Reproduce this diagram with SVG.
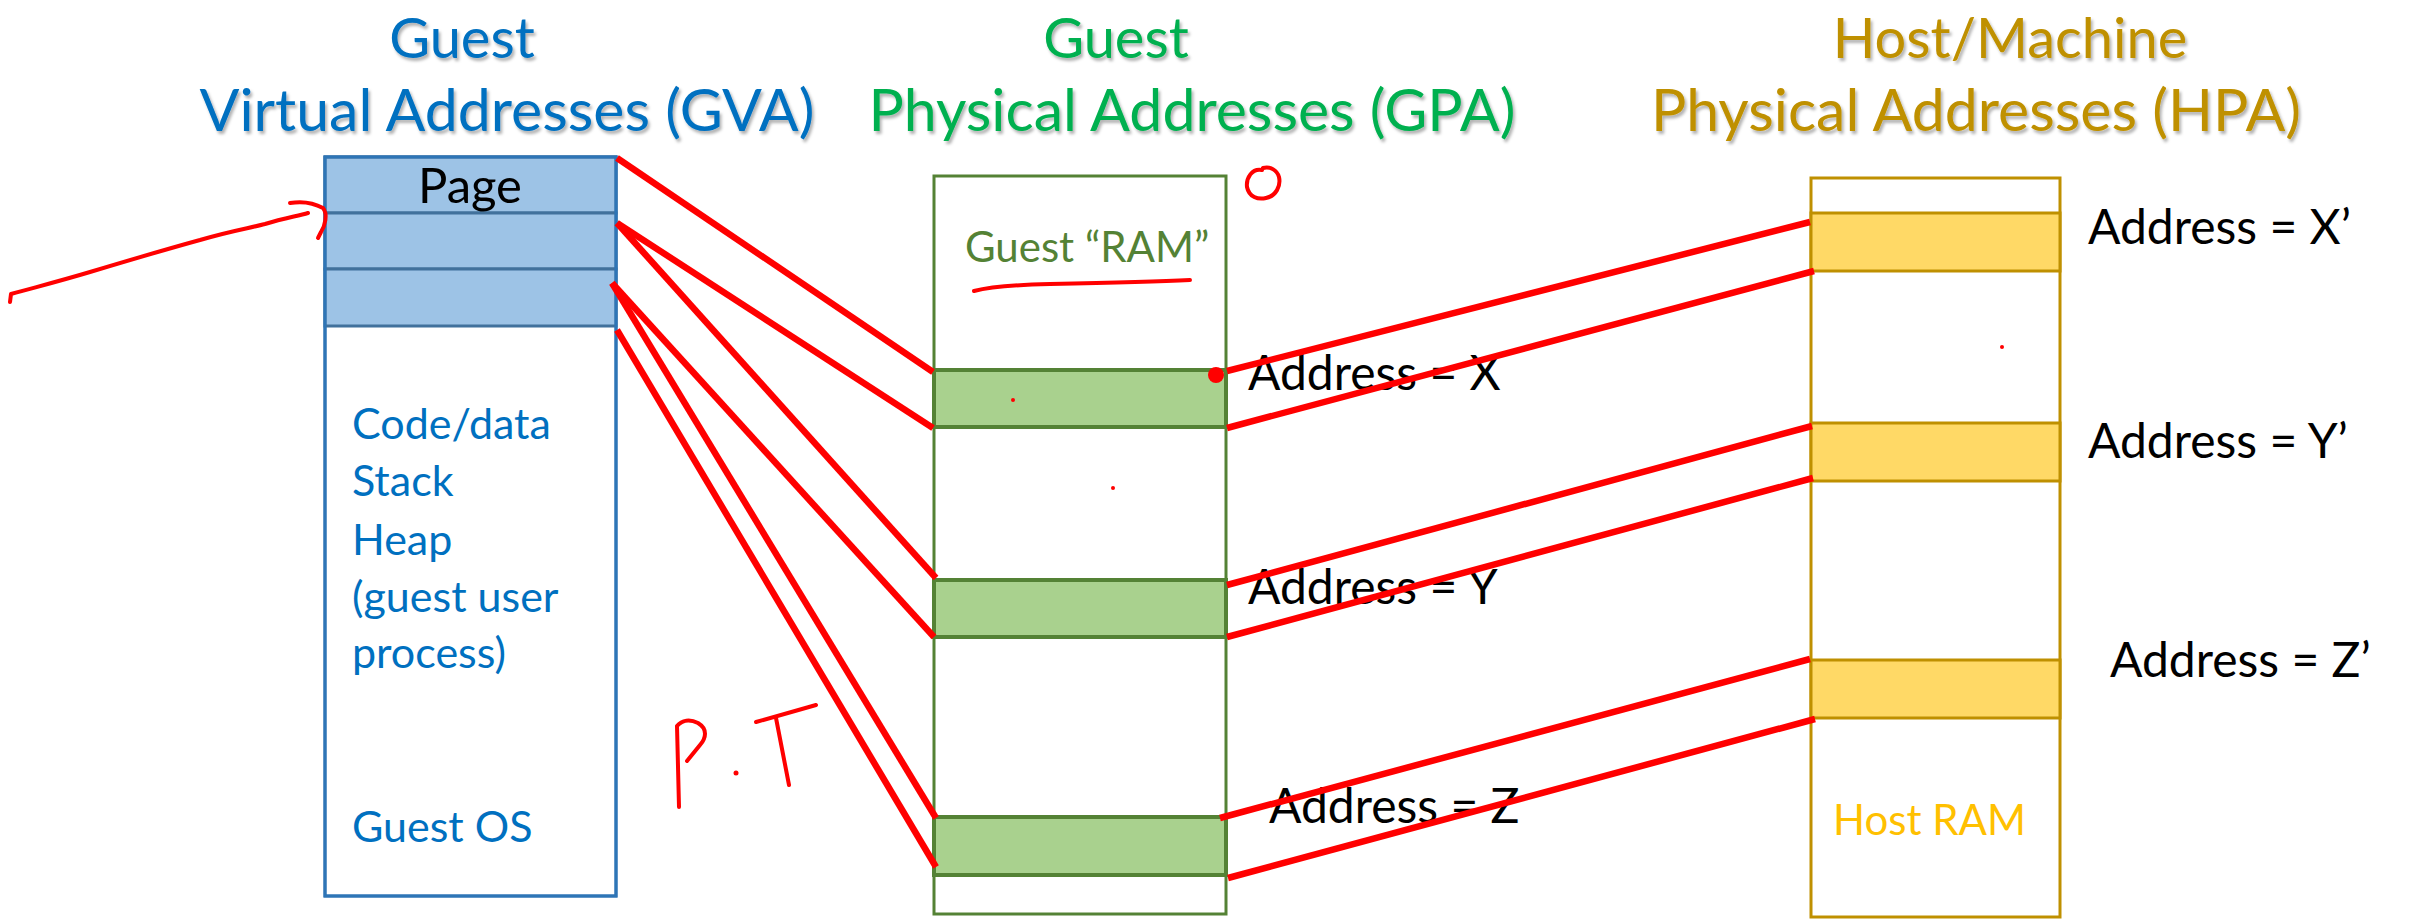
<svg xmlns="http://www.w3.org/2000/svg" width="2420" height="923" viewBox="0 0 2420 923">
<defs>
<filter id="sh" x="-5%" y="-20%" width="110%" height="140%">
<feDropShadow dx="2" dy="3" stdDeviation="1.5" flood-color="#000" flood-opacity="0.3"/>
</filter>
</defs>
<style>
text{font-family:Lato,"Open Sans","Liberation Sans",sans-serif}
.title{font-size:59px;text-anchor:middle;filter:url(#sh)}
.t1{font-size:56px}
.blue{fill:#0070C0}
.green{fill:#00B050}
.gold{fill:#BF9000}
.lbl{font-size:43px}
.addr{font-size:48px;fill:#000}
.gvaBox{fill:#fff;stroke:#2E75B6;stroke-width:3}
.gvaRow{fill:#9DC3E6;stroke:#41719C;stroke-width:3}
.gpaBox{fill:#fff;stroke:#548235;stroke-width:3}
.gpaBlk{fill:#A9D18E;stroke:#548235;stroke-width:4}
.hpaBox{fill:#fff;stroke:#BF9000;stroke-width:3}
.hpaBlk{fill:#FFD966;stroke:#BF9000;stroke-width:3}
.map{stroke:#FF0000;stroke-width:6.5;fill:none;stroke-linecap:butt}
.ink{stroke:#FF0000;stroke-width:4;fill:none;stroke-linecap:round;stroke-linejoin:round}
</style>

<g id="titles">
<text class="title t1 blue" x="462" y="58">Guest</text>
<text class="title blue" x="507" y="131">Virtual Addresses (GVA)</text>
<text class="title t1 green" x="1116" y="58">Guest</text>
<text class="title green" x="1192" y="131">Physical Addresses (GPA)</text>
<text class="title t1 gold" x="2010" y="58">Host/Machine</text>
<text class="title gold" x="1976" y="131">Physical Addresses (HPA)</text>
</g>

<g id="gva">
<rect class="gvaBox" x="325" y="157" width="291" height="739"/>
<rect class="gvaRow" x="325" y="157" width="291" height="56"/>
<rect class="gvaRow" x="325" y="213" width="291" height="56"/>
<rect class="gvaRow" x="325" y="269" width="291" height="57"/>
<rect x="325" y="157" width="291" height="739" fill="none" stroke="#2E75B6" stroke-width="3"/>
<text x="470" y="203" text-anchor="middle" fill="#000" font-size="49">Page</text>
<text class="lbl blue" x="352" y="439">Code/data</text>
<text class="lbl blue" x="352" y="496">Stack</text>
<text class="lbl blue" x="352" y="555">Heap</text>
<text class="lbl blue" x="352" y="612">(guest user</text>
<text class="lbl blue" x="352" y="668">process)</text>
<text class="lbl blue" x="352" y="842">Guest OS</text>
</g>

<g id="gpa">
<rect class="gpaBox" x="934" y="176" width="292" height="738"/>
<rect class="gpaBlk" x="934" y="370" width="292" height="57"/>
<rect class="gpaBlk" x="934" y="580" width="292" height="57"/>
<rect class="gpaBlk" x="934" y="817" width="292" height="58"/>
<text x="965" y="262" fill="#548235" font-size="42">Guest “RAM”</text>
<text class="addr" x="1248" y="390">Address = X</text>
<text class="addr" x="1248" y="604">Address = Y</text>
<text class="addr" x="1269" y="823">Address = Z</text>
</g>

<g id="hpa">
<rect class="hpaBox" x="1811" y="178" width="249" height="739"/>
<rect class="hpaBlk" x="1811" y="213" width="249" height="58"/>
<rect class="hpaBlk" x="1811" y="423" width="249" height="58"/>
<rect class="hpaBlk" x="1811" y="660" width="249" height="58"/>
<text x="1833" y="835" fill="#FFC000" font-size="42">Host RAM</text>
<text class="addr" x="2088" y="244">Address = X’</text>
<text class="addr" x="2088" y="458">Address = Y’</text>
<text class="addr" x="2110" y="677">Address = Z’</text>
</g>

<g id="connectors">
<line class="map" x1="617" y1="158" x2="933" y2="372"/>
<line class="map" x1="617" y1="223" x2="933" y2="428"/>
<line class="map" x1="617" y1="223" x2="936" y2="578"/>
<line class="map" x1="612" y1="283" x2="934" y2="637"/>
<line class="map" x1="612" y1="283" x2="936" y2="818"/>
<line class="map" x1="617" y1="330" x2="936" y2="867"/>
<line class="map" x1="1227" y1="371" x2="1810" y2="222"/>
<line class="map" x1="1227" y1="428" x2="1814" y2="271"/>
<line class="map" x1="1227" y1="585" x2="1812" y2="426"/>
<line class="map" x1="1227" y1="637" x2="1813" y2="478"/>
<line class="map" x1="1220" y1="818" x2="1810" y2="659"/>
<line class="map" x1="1228" y1="878" x2="1815" y2="719"/>
</g>

<g id="annotations">
<path class="ink" d="M10 302 L11 294 C40 286 60 281 90 272 C120 263 160 251 200 240 C230 231 250 228 265 224 C285 218 298 216 308 213"/>
<path class="ink" d="M290 203 C302 201 314 203 323 208 C328 214 325 226 321 232 L318 238"/>
<path class="ink" d="M974 291 C990 287 1010 285 1050 284 C1100 283 1150 282 1190 280"/>
<path class="ink" stroke-width="3" d="M1262 170 C1252 168 1246 178 1247 187 C1249 197 1258 200 1266 198 C1276 196 1281 186 1279 177 C1277 170 1270 166 1263 168"/>
<circle cx="1216" cy="375" r="8" fill="#FF0000"/>
<circle cx="1013" cy="400" r="2" fill="#FF0000"/>
<circle cx="1113" cy="488" r="2" fill="#FF0000"/>
<circle cx="2002" cy="347" r="2" fill="#FF0000"/>
<circle cx="736" cy="773" r="2.5" fill="#FF0000"/>
<path class="ink" d="M679 807 L677 726 C682 720 690 719 698 723 C708 729 706 738 700 745 L687 761"/>
<path class="ink" d="M756 722 L816 705"/>
<path class="ink" d="M776 718 L789 785"/>
</g>
</svg>
